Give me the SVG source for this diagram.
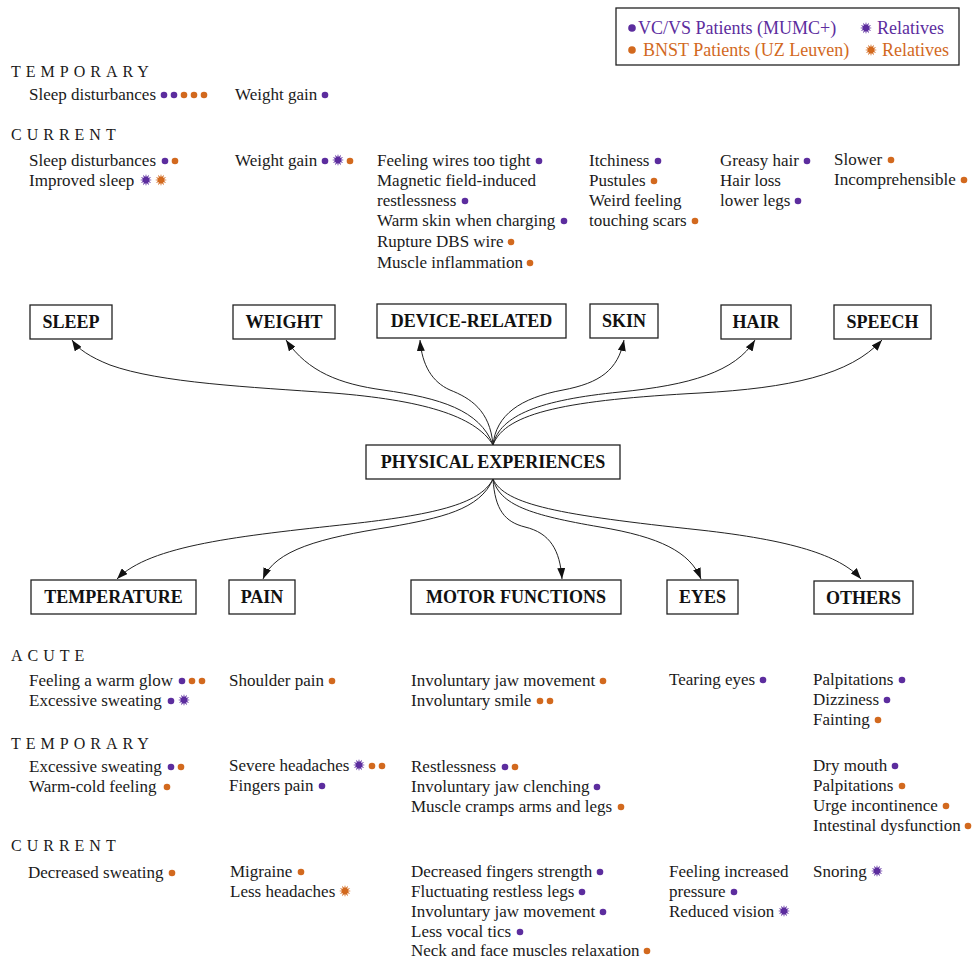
<svg xmlns="http://www.w3.org/2000/svg" xmlns:xlink="http://www.w3.org/1999/xlink" width="974" height="959" viewBox="0 0 974 959">
<style>
  .t { font-family: "Liberation Serif", "Times New Roman", serif; font-size: 17px; fill: #1a1a1a; }
  .h { font-family: "Liberation Serif", "Times New Roman", serif; font-size: 16px; fill: #1a1a1a; letter-spacing: 5px; }
  .lbl { font-family: "Liberation Serif", "Times New Roman", serif; font-size: 18px; font-weight: bold; fill: #111; text-anchor: middle; }
  .box { fill: #fff; stroke: #222; stroke-width: 1.3; }
  .edge { fill: none; stroke: #222; stroke-width: 1; marker-end: url(#ah); }
  .p { fill: #5C2D9E; }
  .o { fill: #D2691E; }
  .lp { font-family: "Liberation Serif", "Times New Roman", serif; font-size: 18px; fill: #5C2D9E; }
  .lo { font-family: "Liberation Serif", "Times New Roman", serif; font-size: 18px; fill: #D2691E; }
</style>
<defs>
  <marker id="ah" markerWidth="11" markerHeight="8" refX="11" refY="4" orient="auto" markerUnits="userSpaceOnUse">
    <path d="M0,0 L11,4 L0,8 Z" fill="#111"/>
  </marker>
  <path id="star" d="M6,0 L2.9,0.78 L5.2,3 L2.12,2.12 L3,5.2 L0.78,2.9 L0,6 L-0.78,2.9 L-3,5.2 L-2.12,2.12 L-5.2,3 L-2.9,0.78 L-6,0 L-2.9,-0.78 L-5.2,-3 L-2.12,-2.12 L-3,-5.2 L-0.78,-2.9 L0,-6 L0.78,-2.9 L3,-5.2 L2.12,-2.12 L5.2,-3 L2.9,-0.78 Z"/>
  <circle id="dot" r="3.3" cx="0" cy="0"/>
  <circle id="bigdot" r="3.8" cx="0" cy="0"/>
</defs>

<rect width="974" height="959" fill="#fff"/>

<!-- Legend -->
<g id="legend">
  <rect x="616" y="8" width="343" height="57" fill="#fff" stroke="#222" stroke-width="1.3"/>
  <use href="#bigdot" x="632" y="28" class="p"/>
  <text x="638" y="34" class="lp">VC/VS Patients (MUMC+)</text>
  <use href="#star" x="866" y="28" class="p"/>
  <text x="877" y="34" class="lp">Relatives</text>
  <use href="#bigdot" x="632" y="50" class="o"/>
  <text x="643" y="56" class="lo">BNST Patients (UZ Leuven)</text>
  <use href="#star" x="871" y="50" class="o"/>
  <text x="882" y="56" class="lo">Relatives</text>
</g>

<!-- Connectors -->
<g id="connectors">
  <path class="edge" d="M493,445 C475,415 420,400 333,393 C250,387 160,383 110,365 C90,357 78,349 72,340"/>
  <path class="edge" d="M493,445 C480,410 440,398 383,390 C340,384 308,372 286,340"/>
  <path class="edge" d="M493,445 C490,410 470,398 450,390 C432,382 422,365 420,340"/>
  <path class="edge" d="M493,445 C496,415 520,398 563,390 C600,383 618,370 624,340"/>
  <path class="edge" d="M493,445 C500,415 540,400 620,392 C690,385 735,372 755,340"/>
  <path class="edge" d="M493,445 C505,412 570,400 700,393 C790,388 850,375 882,340"/>
  <path class="edge" d="M493,479 C480,505 430,515 350,524 C240,536 150,545 117,579"/>
  <path class="edge" d="M493,479 C480,510 440,518 390,527 C320,538 275,550 263,579"/>
  <path class="edge" d="M493,479 C495,510 505,522 525,527 C550,533 560,550 562,579"/>
  <path class="edge" d="M493,479 C500,505 530,515 600,527 C660,537 690,552 701,579"/>
  <path class="edge" d="M493,479 C505,505 560,515 700,530 C790,540 840,555 861,579"/>
</g>

<!-- Nodes -->
<g id="node-physical"><rect class="box" x="366" y="445" width="254" height="34"/><text class="lbl" x="493" y="468">PHYSICAL EXPERIENCES</text></g>
<g id="node-sleep"><rect class="box" x="30" y="305" width="82" height="34"/><text class="lbl" x="71" y="328">SLEEP</text></g>
<g id="node-weight"><rect class="box" x="233" y="305" width="102" height="34"/><text class="lbl" x="284" y="328">WEIGHT</text></g>
<g id="node-device"><rect class="box" x="377" y="304" width="189" height="34"/><text class="lbl" x="471.5" y="327">DEVICE-RELATED</text></g>
<g id="node-skin"><rect class="box" x="590" y="304" width="68" height="34"/><text class="lbl" x="624" y="327">SKIN</text></g>
<g id="node-hair"><rect class="box" x="721" y="305" width="70" height="34"/><text class="lbl" x="756" y="328">HAIR</text></g>
<g id="node-speech"><rect class="box" x="834" y="305" width="97" height="34"/><text class="lbl" x="882.5" y="328">SPEECH</text></g>
<g id="node-temperature"><rect class="box" x="31" y="580" width="165" height="34"/><text class="lbl" x="113.5" y="603">TEMPERATURE</text></g>
<g id="node-pain"><rect class="box" x="229" y="580" width="66" height="34"/><text class="lbl" x="262" y="603">PAIN</text></g>
<g id="node-motor"><rect class="box" x="411" y="580" width="210" height="34"/><text class="lbl" x="516" y="603">MOTOR FUNCTIONS</text></g>
<g id="node-eyes"><rect class="box" x="667" y="580" width="71" height="34"/><text class="lbl" x="702.5" y="603">EYES</text></g>
<g id="node-others"><rect class="box" x="814" y="581" width="99" height="33"/><text class="lbl" x="863.5" y="604">OTHERS</text></g>

<!-- Top lists -->
<g id="top-lists">
  <text class="h" x="11" y="77">TEMPORARY</text>
  <text class="t" x="29" y="100">Sleep disturbances</text>
  <use href="#dot" x="164" y="95" class="p"/><use href="#dot" x="174" y="95" class="p"/><use href="#dot" x="184" y="95" class="o"/><use href="#dot" x="194" y="95" class="o"/><use href="#dot" x="204" y="95" class="o"/>
  <text class="t" x="235" y="100">Weight gain</text>
  <use href="#dot" x="325" y="95" class="p"/>

  <text class="h" x="11" y="140">CURRENT</text>
  <text class="t" x="29" y="166">Sleep disturbances</text>
  <use href="#dot" x="165" y="161" class="p"/><use href="#dot" x="175" y="161" class="o"/>
  <text class="t" x="29" y="186">Improved sleep</text>
  <use href="#star" x="146" y="180" class="p"/><use href="#star" x="161" y="180" class="o"/>
  <text class="t" x="235" y="166">Weight gain</text>
  <use href="#dot" x="325" y="161" class="p"/><use href="#star" x="338" y="160" class="p"/><use href="#dot" x="350" y="161" class="o"/>

  <text class="t" x="377" y="166">Feeling wires too tight</text><use href="#dot" x="539" y="161" class="p"/>
  <text class="t" x="377" y="186">Magnetic field-induced</text>
  <text class="t" x="377" y="206">restlessness</text><use href="#dot" x="465" y="201" class="p"/>
  <text class="t" x="377" y="226">Warm skin when charging</text><use href="#dot" x="564" y="221" class="p"/>
  <text class="t" x="377" y="247">Rupture DBS wire</text><use href="#dot" x="511" y="242" class="o"/>
  <text class="t" x="377" y="268">Muscle inflammation</text><use href="#dot" x="530" y="263" class="o"/>

  <text class="t" x="589" y="166">Itchiness</text><use href="#dot" x="658" y="161" class="p"/>
  <text class="t" x="589" y="186">Pustules</text><use href="#dot" x="654" y="181" class="o"/>
  <text class="t" x="589" y="206">Weird feeling</text>
  <text class="t" x="589" y="226">touching scars</text><use href="#dot" x="695" y="221" class="o"/>

  <text class="t" x="720" y="166">Greasy hair</text><use href="#dot" x="807" y="161" class="p"/>
  <text class="t" x="720" y="186">Hair loss</text>
  <text class="t" x="720" y="206">lower legs</text><use href="#dot" x="798" y="201" class="p"/>

  <text class="t" x="834" y="165">Slower</text><use href="#dot" x="891" y="160" class="o"/>
  <text class="t" x="834" y="185">Incomprehensible</text><use href="#dot" x="964" y="180" class="o"/>
</g>

<!-- Bottom lists -->
<g id="bottom-lists">
  <text class="h" x="11" y="661">ACUTE</text>
  <text class="t" x="29" y="686">Feeling a warm glow</text>
  <use href="#dot" x="182" y="681" class="p"/><use href="#dot" x="192" y="681" class="o"/><use href="#dot" x="202" y="681" class="o"/>
  <text class="t" x="29" y="706">Excessive sweating</text>
  <use href="#dot" x="171" y="701" class="p"/><use href="#star" x="184" y="700" class="p"/>
  <text class="t" x="229" y="686">Shoulder pain</text><use href="#dot" x="332" y="681" class="o"/>
  <text class="t" x="411" y="686">Involuntary jaw movement</text><use href="#dot" x="603" y="681" class="o"/>
  <text class="t" x="411" y="706">Involuntary smile</text><use href="#dot" x="540" y="701" class="o"/><use href="#dot" x="550" y="701" class="o"/>
  <text class="t" x="669" y="685">Tearing eyes</text><use href="#dot" x="763" y="680" class="p"/>
  <text class="t" x="813" y="685">Palpitations</text><use href="#dot" x="902" y="680" class="p"/>
  <text class="t" x="813" y="705">Dizziness</text><use href="#dot" x="887" y="700" class="p"/>
  <text class="t" x="813" y="725">Fainting</text><use href="#dot" x="878" y="720" class="o"/>

  <text class="h" x="11" y="749">TEMPORARY</text>
  <text class="t" x="29" y="772">Excessive sweating</text>
  <use href="#dot" x="171" y="767" class="p"/><use href="#dot" x="181" y="767" class="o"/>
  <text class="t" x="29" y="792">Warm-cold feeling</text><use href="#dot" x="167" y="787" class="o"/>
  <text class="t" x="229" y="771">Severe headaches</text>
  <use href="#star" x="359" y="765" class="p"/><use href="#dot" x="372" y="766" class="o"/><use href="#dot" x="382" y="766" class="o"/>
  <text class="t" x="229" y="791">Fingers pain</text><use href="#dot" x="322" y="786" class="p"/>
  <text class="t" x="411" y="772">Restlessness</text><use href="#dot" x="505" y="767" class="p"/><use href="#dot" x="515" y="767" class="o"/>
  <text class="t" x="411" y="792">Involuntary jaw clenching</text><use href="#dot" x="597" y="787" class="p"/>
  <text class="t" x="411" y="812">Muscle cramps arms and legs</text><use href="#dot" x="621" y="807" class="o"/>
  <text class="t" x="813" y="771">Dry mouth</text><use href="#dot" x="895" y="766" class="p"/>
  <text class="t" x="813" y="791">Palpitations</text><use href="#dot" x="902" y="786" class="o"/>
  <text class="t" x="813" y="811">Urge incontinence</text><use href="#dot" x="946" y="806" class="o"/>
  <text class="t" x="813" y="831">Intestinal dysfunction</text><use href="#dot" x="968" y="826" class="o"/>

  <text class="h" x="11" y="851">CURRENT</text>
  <text class="t" x="28" y="878">Decreased sweating</text><use href="#dot" x="172" y="873" class="o"/>
  <text class="t" x="230" y="877">Migraine</text><use href="#dot" x="301" y="872" class="o"/>
  <text class="t" x="230" y="897">Less headaches</text><use href="#star" x="345" y="891" class="o"/>
  <text class="t" x="411" y="877">Decreased fingers strength</text><use href="#dot" x="600" y="872" class="p"/>
  <text class="t" x="411" y="897">Fluctuating restless legs</text><use href="#dot" x="582" y="892" class="p"/>
  <text class="t" x="411" y="917">Involuntary jaw movement</text><use href="#dot" x="603" y="912" class="p"/>
  <text class="t" x="411" y="937">Less vocal tics</text><use href="#dot" x="520" y="932" class="p"/>
  <text class="t" x="411" y="956">Neck and face muscles relaxation</text><use href="#dot" x="647" y="951" class="o"/>
  <text class="t" x="669" y="877">Feeling increased</text>
  <text class="t" x="669" y="897">pressure</text><use href="#dot" x="734" y="892" class="p"/>
  <text class="t" x="669" y="917">Reduced vision</text><use href="#star" x="784" y="911" class="p"/>
  <text class="t" x="813" y="877">Snoring</text><use href="#star" x="877" y="871" class="p"/>
</g>
</svg>
